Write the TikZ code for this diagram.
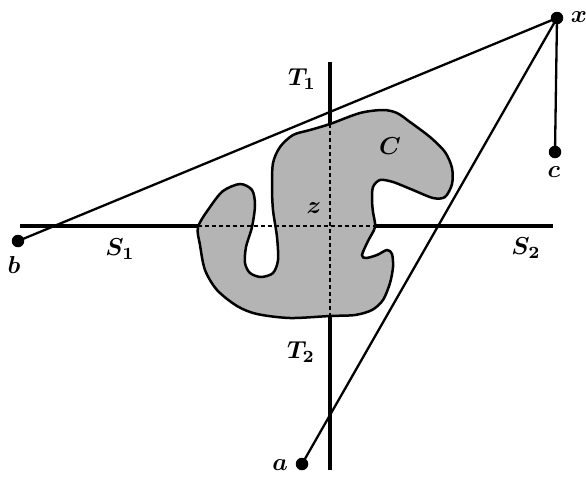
\documentclass[tikz,border=0pt]{standalone}
\usepackage{graphicx}
\newcommand{\biglbl}[1]{\scalebox{2.45}{\boldmath$#1$}}
\begin{document}
\begin{tikzpicture}[x=1pt,y=-1pt,
  thickline/.style={line width=3.8pt},
  thinline/.style={line width=2.3pt},
  dashline/.style={line width=2pt, dash pattern=on 4pt off 3pt},
  dot/.style={circle, fill=black, inner sep=0pt, minimum size=12.5pt},
  lbl/.style={inner sep=0pt}]
\definecolor{shapegray}{RGB}{180,180,180}
\useasboundingbox (0,0) rectangle (586,480);
% shape C
\draw[line width=2.5pt, fill=shapegray] plot[smooth cycle, tension=0.5] coordinates {
 (198,227) (210,207) (223,191) (240,184) (252,190) (255,205) (252,227) (246,247) (245,263)
 (250,273) (261,277) (273,273) (278,260) (277,237) (273,210) (272,187) (273,163) (280,147)
 (293,135) (310,130) (330,124) (360,113) (383,110) (397,113) (410,122) (430,137) (445,152)
 (452,168) (452,184) (445,197) (433,198) (413,190) (393,182) (380,180) (373,187) (372,200)
 (373,212) (375,227) (368,241) (362,255) (366,258) (377,255) (387,250) (392,254) (393,267)
 (390,283) (383,300) (372,310) (355,315) (330,316) (290,318) (257,314) (237,306) (217,290)
 (205,270) (200,245)};
% coordinates
\coordinate (SL) at (20,226);
\coordinate (SR) at (553,226);
\coordinate (SCa) at (198,226);
\coordinate (SCb) at (375,226);
\coordinate (TT) at (330,62);
\coordinate (TB) at (330,470);
\coordinate (TCa) at (330,124);
\coordinate (TCb) at (330,316);
% axis lines
\draw[thickline] (SL) -- (SCa);
\draw[thickline] (SCb) -- (SR);
\draw[dashline] (SCa) -- (SCb);
\draw[thickline] (TT) -- (TCa);
\draw[thickline] (TCb) -- (TB);
\draw[dashline] (TCa) -- (TCb);
% points
\node[dot] (x) at (557,18) {};
\node[dot] (a) at (302,464) {};
\node[dot] (b) at (18,241) {};
\node[dot] (c) at (555,152) {};
\draw[thinline] (x.center) -- (b.center);
\draw[thinline] (x.center) -- (a.center);
\draw[thinline] (x.center) -- (c.center);
% labels
\node[lbl] (lx) at (579,17) {\biglbl{x}};
\node[lbl] (lc) at (554,172) {\biglbl{c}};
\node[lbl] (lb) at (14,265) {\biglbl{b}};
\node[lbl] (la) at (280,465) {\biglbl{a}};
\node[lbl] (lT1) at (302,79) {\biglbl{T_1}};
\node[lbl] (lT2) at (301,352) {\biglbl{T_2}};
\node[lbl] (lS1) at (120,249) {\biglbl{S_1}};
\node[lbl] (lS2) at (526,248) {\biglbl{S_2}};
\node[lbl] (lC) at (390,146) {\biglbl{C}};
\node[lbl] (lz) at (314,208) {\biglbl{z}};
\end{tikzpicture}
\end{document}
